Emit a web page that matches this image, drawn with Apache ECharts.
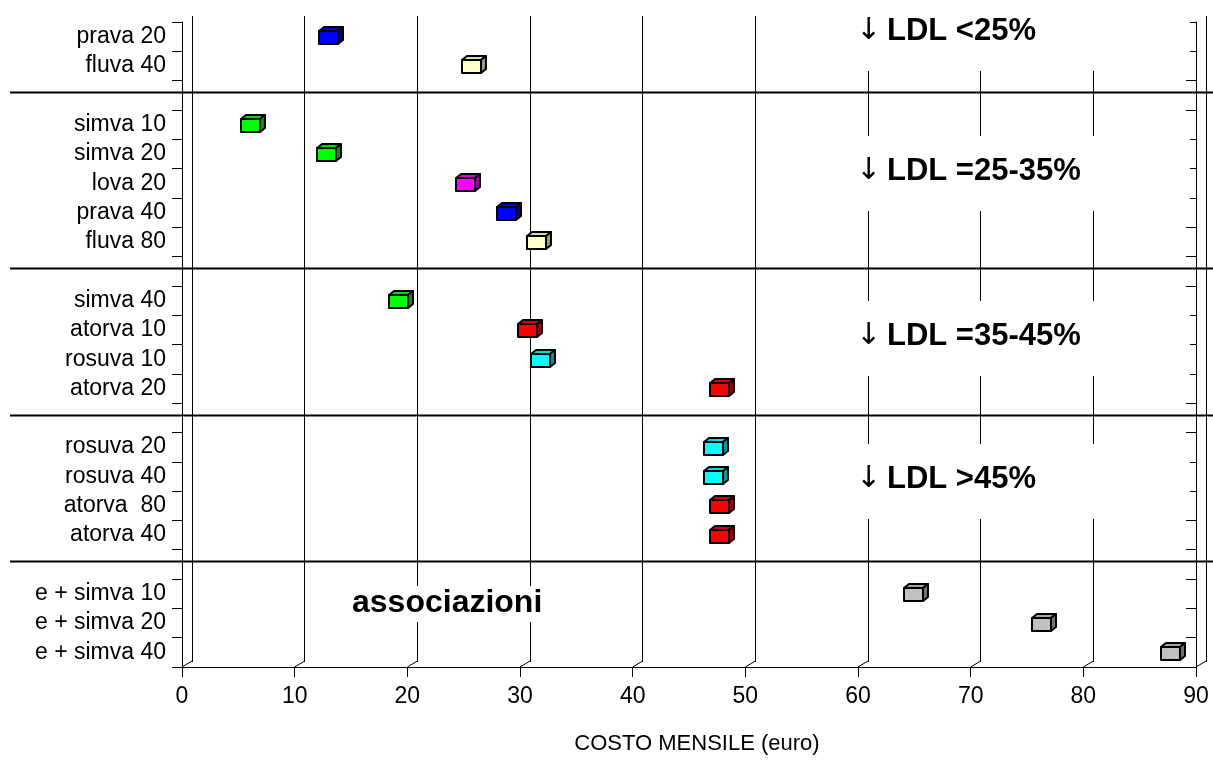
<!DOCTYPE html>
<html>
<head>
<meta charset="utf-8">
<script src="https://cdn.jsdelivr.net/npm/echarts@6/dist/echarts.min.js"></script>
<style>
  html, body { margin: 0; padding: 0; background: #fff; }
  #chart { width: 1213px; height: 760px; }
</style>
</head>
<body>
<div id="chart"></div>
<script>
// categorie (le righe vuote separano i gruppi)
var farmaci = ['prava 20', 'fluva 40', '',
  'simva 10', 'simva 20', 'lova 20', 'prava 40', 'fluva 80', '',
  'simva 40', 'atorva 10', 'rosuva 10', 'atorva 20', '',
  'rosuva 20', 'rosuva 40', 'atorva  80', 'atorva 40', '',
  'e + simva 10', 'e + simva 20', 'e + simva 40'];
// costo mensile in euro
var costo = [13, 25.7, null,
  6.1, 12.8, 25.2, 28.8, 31.5, null,
  19.2, 30.7, 31.8, 47.7, null,
  47.2, 47.2, 47.7, 47.7, null,
  64.9, 76.3, 87.7];
var separatori = [2, 8, 13, 18];
var gruppi = ['LDL <25%', 'LDL =25-35%', 'LDL =35-45%', 'LDL >45%'];
var xTicks = [0, 10, 20, 30, 40, 50, 60, 70, 80, 90];

// colori dei cubetti (stile)
var colori = ['#0000ff', '#ffffcc', null,
  '#00ff00', '#00ff00', '#ff00ff', '#0000ff', '#ffffcc', null,
  '#00ff00', '#ff0000', '#00ffff', '#ff0000', null,
  '#00ffff', '#00ffff', '#ff0000', '#ff0000', null,
  '#c0c0c0', '#c0c0c0', '#c0c0c0'];
var gruppiY = [31, 171, 336, 479];

var FONT = '"Liberation Sans", Arial, sans-serif';

function scuro(hex, f) {
  var n = parseInt(hex.slice(1), 16);
  var r = Math.round(((n >> 16) & 255) * f);
  var g = Math.round(((n >> 8) & 255) * f);
  var b = Math.round((n & 255) * f);
  return 'rgb(' + r + ',' + g + ',' + b + ')';
}

var cubi = [];
costo.forEach(function (v, i) {
  if (v != null) cubi.push({ value: [v, i], itemStyle: { color: colori[i] } });
});

function renderCubo(params, api) {
  var p = api.coord([api.value(0), api.value(1)]);
  var c = api.visual('color');
  var w = 19, h = 13, d = 5, e = 4;
  var x0 = Math.round(p[0] - w / 2), y0 = Math.round(p[1] - h / 2 + 1);
  var x1 = x0 + w, y1 = y0 + h;
  var bordo = { stroke: '#000', lineWidth: 2, lineJoin: 'round' };
  return {
    type: 'group',
    children: [
      { type: 'polygon', shape: { points: [[x0, y0], [x0 + d, y0 - e], [x1 + d, y0 - e], [x1, y0]] },
        style: Object.assign({ fill: scuro(c, 0.85) }, bordo) },
      { type: 'polygon', shape: { points: [[x1, y0], [x1 + d, y0 - e], [x1 + d, y1 - e], [x1, y1]] },
        style: Object.assign({ fill: scuro(c, 0.6) }, bordo) },
      { type: 'rect', shape: { x: x0, y: y0, width: w, height: h },
        style: Object.assign({ fill: c }, bordo) }
    ]
  };
}

function renderSeparatore(params, api) {
  var y = Math.round(api.coord([0, api.value(1)])[1] - 3) + 0.5;
  return { type: 'line', shape: { x1: 10, y1: y, x2: api.getWidth(), y2: y },
    style: { stroke: '#000', lineWidth: 2 } };
}

function renderDiagonale(params, api) {
  var cs = params.coordSys;
  var x = api.coord([api.value(0), 0])[0];
  var y = cs.y + cs.height;
  return { type: 'line', shape: { x1: x, y1: y, x2: x + 10, y2: y - 6 },
    style: { stroke: '#000', lineWidth: 1 } };
}

var etichette = [];
gruppi.forEach(function (t, i) {
  etichette.push(
    { type: 'rect', z: 50, shape: { x: 762, y: gruppiY[i] - 35, width: 428, height: 75 },
      style: { fill: '#fff' } },
    { type: 'text', z: 51, x: 856, y: gruppiY[i],
      style: { text: '\u2193', fill: '#000', font: '30px "DejaVu Sans", ' + FONT, verticalAlign: 'middle' } },
    { type: 'text', z: 51, x: 887, y: gruppiY[i],
      style: { text: t, fill: '#000', font: 'bold 31px ' + FONT, verticalAlign: 'middle' } }
  );
});
etichette.push(
  { type: 'rect', z: 50, shape: { x: 346, y: 586, width: 204, height: 36 }, style: { fill: '#fff' } },
  { type: 'text', z: 51, x: 352, y: 603,
    style: { text: 'associazioni', fill: '#000', font: 'bold 32px ' + FONT, verticalAlign: 'middle' } }
);

var chart = echarts.init(document.getElementById('chart'));
chart.setOption({
  animation: false,
  backgroundColor: '#fff',
  grid: [
    { left: 182, right: 17, top: 22, bottom: 92 },
    { left: 192, right: 7, top: 16, bottom: 98 }
  ],
  xAxis: [
    {
      gridIndex: 0, type: 'value', min: 0, max: 90, interval: 10,
      name: 'COSTO MENSILE (euro)', nameLocation: 'middle', nameGap: 66,
      nameTextStyle: { color: '#000', fontSize: 22, fontFamily: FONT, padding: [0, 0, 0, 16] },
      axisLine: { show: true, lineStyle: { color: '#000', width: 1 } },
      axisTick: { show: true, length: 10, lineStyle: { color: '#000' } },
      axisLabel: { color: '#000', fontSize: 23, fontFamily: FONT, margin: 18 },
      splitLine: { show: false }
    },
    {
      gridIndex: 1, type: 'value', min: 0, max: 90, interval: 10,
      axisLine: { show: false }, axisTick: { show: false }, axisLabel: { show: false },
      splitLine: { show: true, lineStyle: { color: '#000', width: 1 } }
    }
  ],
  yAxis: [
    {
      gridIndex: 0, type: 'category', data: farmaci, inverse: true,
      axisLine: { show: true, lineStyle: { color: '#000', width: 1 } },
      axisTick: { show: true, length: 10, interval: 0, lineStyle: { color: '#000' } },
      axisLabel: { interval: 0, color: '#000', fontSize: 23, fontFamily: FONT, margin: 16 },
      splitLine: { show: false }
    },
    {
      gridIndex: 0, type: 'category', data: farmaci, inverse: true, position: 'right',
      axisLine: { show: true, lineStyle: { color: '#000', width: 1 } },
      axisTick: { show: true, inside: true, length: 10, interval: 0, lineStyle: { color: '#000' } },
      axisLabel: { show: false },
      splitLine: { show: false }
    },
    { gridIndex: 1, type: 'value', show: false, splitLine: { show: false } }
  ],
  graphic: etichette,
  series: [
    {
      type: 'custom', xAxisIndex: 0, yAxisIndex: 0, z: 5,
      data: xTicks.map(function (v) { return [v, 0]; }),
      renderItem: renderDiagonale, silent: true
    },
    {
      type: 'custom', xAxisIndex: 0, yAxisIndex: 0, z: 60,
      data: separatori.map(function (i) { return [0, i]; }),
      renderItem: renderSeparatore, silent: true
    },
    {
      type: 'custom', xAxisIndex: 0, yAxisIndex: 0, z: 70,
      data: cubi, renderItem: renderCubo,
      encode: { x: 0, y: 1 }
    }
  ]
});
</script>
</body>
</html>
